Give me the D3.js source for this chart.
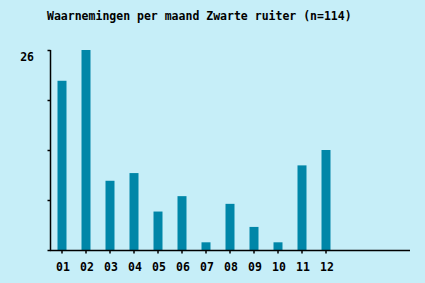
<!DOCTYPE html>
<html>
<head>
<meta charset="utf-8">
<script src="https://cdn.jsdelivr.net/npm/d3@7.9.0/dist/d3.min.js"></script>
<style>
  html, body { margin: 0; padding: 0; background: #c6eef8; }
  svg { display: block; }
  text { font-family: "DejaVu Sans Mono", "Liberation Mono", monospace; font-weight: bold; fill: #000; }
</style>
</head>
<body>
<div id="chart"></div>
<script>
const title = 'Waarnemingen per maand Zwarte ruiter (n=114)'
const months = ['01', '02', '03', '04', '05', '06', '07', '08', '09', '10', '11', '12']
const counts = [22, 26, 9, 10, 5, 7, 1, 6, 3, 1, 11, 13]
const yMax = 26
const yTicks = [0, 6.5, 13, 19.5, 26]
const yLabels = [26]

const width = 425
const height = 283

const svg = d3.select('#chart')
    .append('svg')
    .attr('width', width)
    .attr('height', height)

// 15 slots along the axis, only 12 used
const slots = d3.range(15).map(i => i < 12 ? months[i] : 'x' + i)

const x = d3.scaleBand()
    .domain(slots)
    .range([50, 410])

const y = d3.scaleLinear()
    .domain([0, yMax])
    .range([250, 50])

// Title
svg.append('text')
    .attr('x', 47)
    .attr('y', 20)
    .style('font-size', '11.5px')
    .text(title)

// Bars
svg.selectAll('rect.bar')
    .data(months)
    .join('rect')
    .attr('class', 'bar')
    .attr('x', d => x(d) + x.bandwidth() / 2 - 4.5)
    .attr('width', 9)
    .attr('y', (d, i) => y(counts[i]))
    .attr('height', (d, i) => y(0) - y(counts[i]))
    .attr('fill', '#0086a8')

// Y axis
const yAxis = svg.append('g')
    .attr('transform', 'translate(50.5,0)')
    .call(d3.axisLeft(y).tickValues(yTicks).tickSize(3).tickFormat(''))
yAxis.select('.domain').attr('d', `M0,${y(yMax)}V${y(0)}`).attr('stroke-width', 1.5)
yAxis.selectAll('.tick line').attr('stroke-width', 1.5)

svg.selectAll('text.ylab')
    .data(yLabels)
    .join('text')
    .attr('class', 'ylab')
    .attr('x', 34)
    .attr('y', d => y(d) + 11)
    .attr('text-anchor', 'end')
    .style('font-size', '11.5px')
    .text(d => d)

// X axis
const xAxis = svg.append('g')
    .attr('transform', 'translate(0,250.5)')
    .call(d3.axisBottom(x).tickValues(months).tickSize(3).tickFormat(''))
xAxis.select('.domain').attr('d', `M50,0H410`).attr('stroke-width', 1.5)
xAxis.selectAll('.tick line').attr('stroke-width', 1.5)

svg.selectAll('text.xlab')
    .data(months)
    .join('text')
    .attr('class', 'xlab')
    .attr('x', d => x(d) + x.bandwidth() / 2 + 1)
    .attr('y', 271)
    .attr('text-anchor', 'middle')
    .style('font-size', '11.5px')
    .text(d => d)
</script>
</body>
</html>
